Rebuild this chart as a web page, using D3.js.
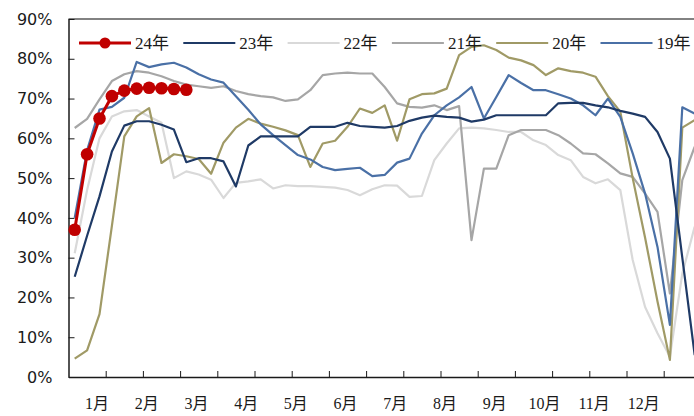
<!DOCTYPE html>
<html>
<head>
<meta charset="utf-8">
<script src="https://cdn.jsdelivr.net/npm/d3@7"></script>
<style>
  body { margin: 0; background: #ffffff; }
  svg { display: block; }
</style>
</head>
<body>
<div id="chart"></div>
<script>
// 周度数据（第0周起），单位 %
var weeks = d3.range(51);
var monthLabels = ["1月", "2月", "3月", "4月", "5月", "6月", "7月", "8月", "9月", "10月", "11月", "12月"];
var yTicks = [0, 10, 20, 30, 40, 50, 60, 70, 80, 90];

var s24 = [37, 56, 65, 70.6, 72, 72.5, 72.7, 72.6, 72.4, 72.2];
var s23 = [25.2, 35.5, 45.4, 56.7, 63.2, 64.3, 64.3, 63.4, 62.2, 54, 55, 55, 54.2, 47.9, 58.2, 60.5, 60.5, 60.5, 60.5, 62.9,
           62.9, 62.9, 63.9, 63.1, 62.9, 62.7, 63.1, 64.4, 65.2, 65.7, 65.4, 65.2, 64.2, 64.7, 65.8, 65.8, 65.8, 65.8, 65.8, 68.8,
           68.9, 68.9, 68.3, 67.8, 66.9, 66.2, 65.4, 61.6, 54.9, 30, 5.5];
var s22 = [31.1, 47, 60, 65.5, 66.8, 67.1, 65.5, 63.9, 50, 51.7, 50.9, 49.6, 45, 48.8, 49.2, 49.7, 47.4, 48.2, 48, 48,
           47.8, 47.6, 47, 45.7, 47.2, 48.2, 48.1, 45.3, 45.5, 54.5, 58.7, 62.5, 62.7, 62.5, 62.1, 61.6, 61.6, 59.5, 58.3, 55.8,
           54.5, 50.3, 48.7, 49.7, 47, 29.4, 17.6, 11, 5.1, 26, 37.8];
var s21 = [62.6, 64.9, 69.8, 74.4, 76.1, 76.9, 76.5, 75.6, 74.4, 73.5, 73.1, 72.7, 73.1, 71.9, 71.1, 70.6, 70.3, 69.4, 69.8, 72.1,
           75.9, 76.3, 76.5, 76.3, 76.3, 72.9, 68.8, 67.9, 67.7, 68.3, 67.1, 68.1, 34.4, 52.4, 52.4, 60.8, 62.1, 62.1, 62.1, 60.8,
           58.7, 56.2, 56, 53.7, 51.2, 50.3, 46.1, 41.5, 21, 49.5, 57.9];
var s20 = [4.6, 6.7, 15.8, 38, 60.5, 65.5, 67.6, 53.8, 56, 55.5, 54.8, 51.1, 58.9, 62.7, 64.9, 63.7, 62.9, 62, 60.8, 52.8,
           58.7, 59.4, 62.9, 67.5, 66.4, 68.3, 59.4, 69.8, 71.1, 71.3, 72.5, 80.9, 83, 83.4, 82.2, 80.3, 79.6, 78.4, 75.9, 77.6,
           76.9, 76.5, 75.5, 70.6, 66.7, 50, 35, 19, 4.3, 62.7, 64.6];
var s19 = [40, 57, 67.2, 67.9, 70.2, 79.2, 77.9, 78.6, 79, 77.8, 76.1, 74.8, 74, 70.6, 67.2, 63.5, 60.8, 58.3, 55.8, 54.7,
           52.8, 52, 52.3, 52.6, 50.5, 50.8, 53.9, 54.9, 61.2, 65.8, 68.3, 70.3, 72.9, 65, 70.4, 75.9, 73.9, 72.1, 72.1, 71.1,
           70, 68.3, 65.8, 70, 65.4, 56.2, 46.1, 32.7, 13.1, 67.8, 66.2];

var seriesNames = ["24年", "23年", "22年", "21年", "20年", "19年"];
var seriesValues = [s24, s23, s22, s21, s20, s19];
var seriesColors = ["#c00000", "#1f3a66", "#d9d9d9", "#a6a6a6", "#a09a66", "#4a70a6"];
var drawOrder = [2, 3, 4, 5, 1, 0];

var cfg = {
    w: 694,
    h: 416,
    left: 68.5,
    top: 19,
    bottom: 377,
    weekWidth: 12.4,
    totalWeeks: 52
};

var svg = d3.select("#chart").append("svg")
    .attr("width", cfg.w)
    .attr("height", cfg.h);

var x = d3.scaleLinear()
    .domain([0, cfg.totalWeeks])
    .range([cfg.left, cfg.left + cfg.totalWeeks * cfg.weekWidth]);

var y = d3.scaleLinear()
    .domain([0, 90])
    .range([cfg.bottom, cfg.top]);

// 月份标签的位置（每4周一个）
var xMonth = d3.scalePoint()
    .domain(monthLabels)
    .range([x(2.3), x(46.4)]);

// 顶部边框
svg.append("line")
    .attr("x1", cfg.left).attr("x2", cfg.w)
    .attr("y1", y(90)).attr("y2", y(90))
    .style("stroke", "#595959")
    .style("stroke-width", 1.5);

// 纵轴
var yAxis = svg.append("g")
    .attr("transform", `translate(${cfg.left},0)`)
    .call(d3.axisLeft(y).tickValues(yTicks).tickSizeInner(-6).tickSizeOuter(0).tickPadding(16)
        .tickFormat(d => d + "%"));
yAxis.select(".domain").style("stroke", "#1a1a1a").style("stroke-width", 1.5);
yAxis.selectAll("line").style("stroke", "#1a1a1a");
yAxis.selectAll("text")
    .style("font-family", "'DejaVu Sans', sans-serif")
    .style("font-size", "16px")
    .style("fill", "#1a1a1a");

// 横轴（每3周一个刻度）
var xAxis = svg.append("g")
    .attr("transform", `translate(0,${cfg.bottom})`)
    .call(d3.axisBottom(x).tickValues(d3.range(3, cfg.totalWeeks, 3)).tickSizeInner(-6).tickSizeOuter(0)
        .tickFormat(""));
xAxis.select(".domain").style("stroke", "#1a1a1a").style("stroke-width", 1.5);
xAxis.selectAll("line").style("stroke", "#1a1a1a");

svg.append("g").selectAll(".monthLabel")
    .data(monthLabels)
    .enter().append("text")
    .attr("class", "monthLabel")
    .attr("x", d => xMonth(d))
    .attr("y", 409)
    .attr("text-anchor", "middle")
    .style("font-family", "'Liberation Serif', 'Noto Sans CJK SC', serif")
    .style("font-size", "16px")
    .style("fill", "#1a1a1a")
    .text(d => d);

// 折线
var line = d3.line()
    .x((d, i) => x(weeks[i] + 0.5))
    .y(d => y(d));

var plot = svg.append("g");
drawOrder.forEach(function(k) {
    plot.append("path")
        .attr("d", line(seriesValues[k]))
        .style("fill", "none")
        .style("stroke", seriesColors[k])
        .style("stroke-width", k === 0 ? 3 : 2.2)
        .style("stroke-linejoin", "round");
});

// 24年的圆点
plot.selectAll(".dot24")
    .data(s24)
    .enter().append("circle")
    .attr("class", "dot24")
    .attr("cx", (d, i) => x(weeks[i] + 0.5))
    .attr("cy", d => y(d))
    .attr("r", 6.3)
    .style("fill", seriesColors[0]);

// 图例
var legend = svg.append("g").selectAll(".legendItem")
    .data(seriesNames)
    .enter().append("g")
    .attr("class", "legendItem")
    .attr("transform", (d, i) => `translate(${79 + i * 104.3},43)`);

legend.append("line")
    .attr("x1", 0).attr("x2", 52)
    .style("stroke", (d, i) => seriesColors[i])
    .style("stroke-width", (d, i) => i === 0 ? 3 : 2.2);

legend.filter((d, i) => i === 0).append("circle")
    .attr("cx", 26)
    .attr("r", 5.5)
    .style("fill", seriesColors[0]);

legend.append("text")
    .attr("x", 56)
    .attr("dy", "0.35em")
    .style("font-family", "'Liberation Serif', 'Noto Sans CJK SC', serif")
    .style("font-size", "17px")
    .style("fill", "#1a1a1a")
    .text(d => d);
</script>
</body>
</html>
